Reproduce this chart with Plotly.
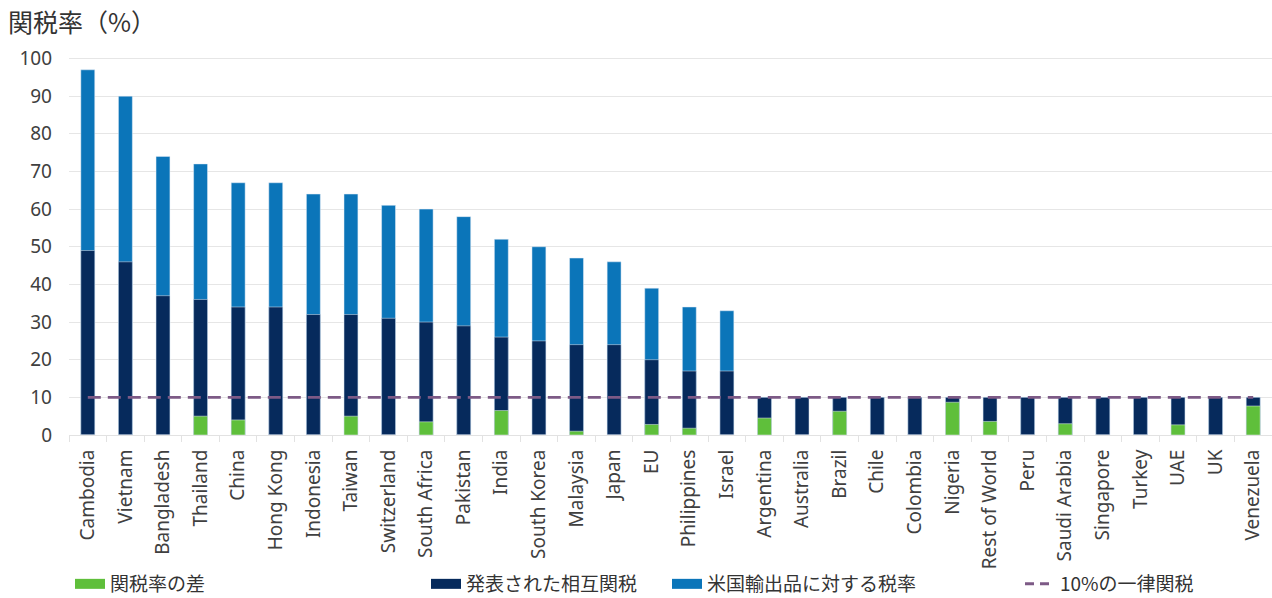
import plotly.graph_objects as go

countries = ["Cambodia", "Vietnam", "Bangladesh", "Thailand", "China", "Hong Kong", "Indonesia",
             "Taiwan", "Switzerland", "South Africa", "Pakistan", "India", "South Korea", "Malaysia",
             "Japan", "EU", "Philippines", "Israel", "Argentina", "Australia", "Brazil", "Chile",
             "Colombia", "Nigeria", "Rest of World", "Peru", "Saudi Arabia", "Singapore", "Turkey",
             "UAE", "UK", "Venezuela"]

# 米国輸出品に対する税率
us_export_rate = [97, 90, 74, 72, 67, 67, 64, 64, 61, 60, 58, 52, 50, 47, 46, 39, 34, 33,
                  10, 10, 10, 10, 10, 10, 10, 10, 10, 10, 10, 10, 10, 10]
# 発表された相互関税
reciprocal = [49, 46, 37, 36, 34, 34, 32, 32, 31, 30, 29, 26, 25, 24, 24, 20, 17, 17,
              10, 10, 10, 10, 10, 10, 10, 10, 10, 10, 10, 10, 10, 10]
# 関税率の差
difference = [0, 0, 0, 5, 4, 0, 0, 5, 0, 3.5, 0, 6.5, 0, 1, 0, 2.8, 1.8, 0,
              4.5, 0, 6.3, 0, 0, 8.7, 3.6, 0, 3.0, 0, 0, 2.7, 0, 7.7]
# 10%の一律関税
baseline = [10] * len(countries)

C_LIGHT = "#0b75b9"
C_NAVY = "#062a5c"
C_GREEN = "#5fbf3b"
C_DASH = "#7d5a86"

FONT = "Noto Sans, Noto Sans CJK JP, sans-serif"
JFONT = "Noto Sans CJK JP, Noto Sans, sans-serif"

W, H = 1272, 598
ML, MR, MT, MB = 69, 0, 57, 163
PW, PH = W - ML - MR, H - MT - MB

fig = go.Figure()
fig.add_trace(go.Bar(x=countries, y=us_export_rate, marker_color=C_LIGHT, width=0.37,
                     showlegend=False, name="米国輸出品に対する税率"))
fig.add_trace(go.Bar(x=countries, y=reciprocal, marker_color=C_NAVY, width=0.37,
                     showlegend=False, name="発表された相互関税"))
fig.add_trace(go.Bar(x=countries, y=difference, marker_color=C_GREEN, width=0.37,
                     showlegend=False, name="関税率の差"))
fig.add_trace(go.Scatter(x=countries, y=baseline, mode="lines",
                         line=dict(color=C_DASH, width=2.8, dash="13px,7px"),
                         showlegend=False, name="10%の一律関税"))

# legend entries
legend_items = [
    ("関税率の差", C_GREEN, 12, "solid", "legend"),
    ("発表された相互関税", C_NAVY, 12, "solid", "legend2"),
    ("米国輸出品に対する税率", C_LIGHT, 12, "solid", "legend3"),
    ("10%の一律関税", C_DASH, 3, "9px,6px", "legend4"),
]
for name, col, w, dash, lg in legend_items:
    fig.add_trace(go.Scatter(x=[None], y=[None], mode="lines", name=name,
                             line=dict(color=col, width=w, dash=dash), legend=lg))

leg_x = [70, 426, 667, 1020]
legs = {}
for i, lx in enumerate(leg_x):
    key = "legend" if i == 0 else f"legend{i+1}"
    legs[key] = dict(xref="container", yref="container", x=lx / W, y=14 / H,
                     xanchor="left", yanchor="middle", orientation="h",
                     font=dict(family=JFONT, size=19, color="#333333"),
                     bgcolor="rgba(0,0,0,0)", itemwidth=30)

fig.update_layout(
    width=W, height=H,
    margin=dict(l=ML, r=MR, t=MT, b=MB, autoexpand=False),
    barmode="overlay",
    plot_bgcolor="white", paper_bgcolor="white",
    font=dict(family=FONT, color="#404040"),
    **legs,
    annotations=[dict(text="関税率（%）", xref="paper", yref="paper",
                      x=(6 - ML) / PW, y=(H - MB - 21) / PH, xanchor="left", yanchor="middle",
                      showarrow=False, font=dict(family=JFONT, size=25, color="#333333"))],
)
fig.update_yaxes(range=[0, 100.4], tickvals=list(range(0, 101, 10)), showgrid=True,
                 gridcolor="#e6e6e6", gridwidth=1, zeroline=False, showline=False,
                 tickfont=dict(family=FONT, size=19, color="#404040"), ticklabelstandoff=16)
fig.update_xaxes(tickangle=-90, tickfont=dict(family=FONT, size=19, color="#404040"),
                 showline=True, linecolor="#e2e2e2", ticks="outside", tickson="boundaries",
                 ticklen=6, tickcolor="#e2e2e2", showgrid=False, ticklabelstandoff=6,
                 range=[-0.5, len(countries) - 0.5])

fig.write_html("out.html")
